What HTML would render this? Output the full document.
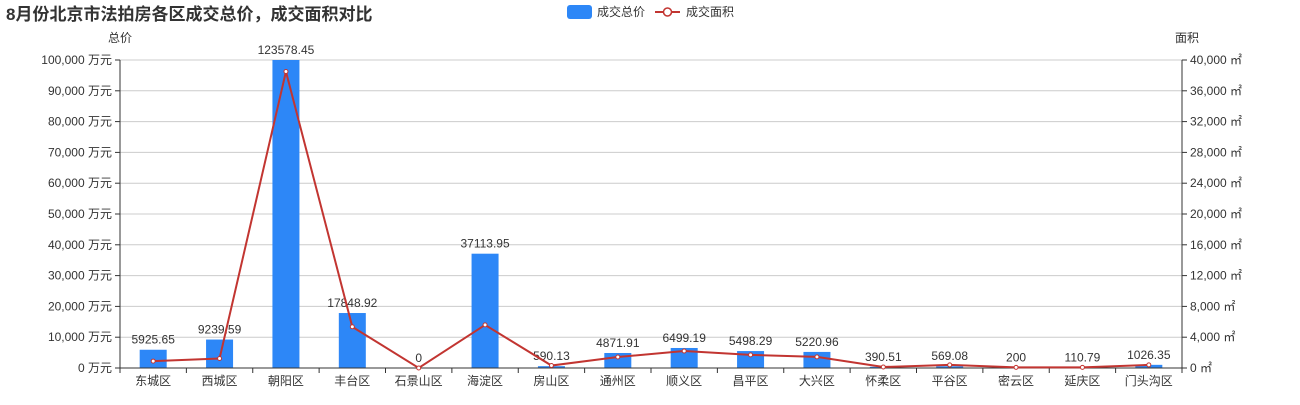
<!DOCTYPE html>
<html><head><meta charset="utf-8"><style>
body{margin:0;background:#fff;}
svg text{font-family:"Liberation Sans","Noto Sans CJK SC",sans-serif;}
</style></head><body>
<svg id="chart" width="1300" height="400" xmlns="http://www.w3.org/2000/svg">
<text x="6" y="20" font-size="17" font-weight="bold" fill="#333">8月份北京市法拍房各区成交总价，成交面积对比</text>
<rect x="567" y="5" width="25" height="14" rx="3" fill="#2d87f7"/>
<text x="597" y="16" font-size="12" fill="#333">成交总价</text>
<line x1="655" y1="12" x2="680" y2="12" stroke="#c23531" stroke-width="2"/>
<circle cx="667.5" cy="12" r="4" fill="#fff" stroke="#c23531" stroke-width="1.5"/>
<text x="686" y="16" font-size="12" fill="#333">成交面积</text>
<text x="108" y="42" font-size="12" fill="#333">总价</text>
<text x="1175" y="42" font-size="12" fill="#333">面积</text>
</svg>
<script>
(function(){
var ns='http://www.w3.org/2000/svg';
var svg=document.getElementById('chart');
function el(t,a,txt){var e=document.createElementNS(ns,t);for(var k in a)e.setAttribute(k,a[k]);if(txt!=null)e.textContent=txt;svg.appendChild(e);return e;}
var T=60,B=368,H=B-T,L=120,R=1182;
for(var i=0;i<=10;i++){var y=B-H*i/10;
 if(i>0)el('line',{x1:L,x2:R,y1:y,y2:y,stroke:'#ccc'});
 el('line',{x1:L-5,x2:L,y1:y,y2:y,stroke:'#333'});
 el('line',{x1:R,x2:R+5,y1:y,y2:y,stroke:'#333'});
 el('text',{x:L-8,y:y+4,'font-size':12,fill:'#333','text-anchor':'end'},(i*10000).toLocaleString('en-US')+' 万元');
 el('text',{x:R+8,y:y+4,'font-size':12,fill:'#333'},(i*4000).toLocaleString('en-US')+' ㎡');
}
var cats=['东城区','西城区','朝阳区','丰台区','石景山区','海淀区','房山区','通州区','顺义区','昌平区','大兴区','怀柔区','平谷区','密云区','延庆区','门头沟区'];
var vals=[5925.65,9239.59,123578.45,17848.92,0,37113.95,590.13,4871.91,6499.19,5498.29,5220.96,390.51,569.08,200,110.79,1026.35];
var area=[900,1230,38500,5350,0,5600,320,1430,2200,1700,1450,130,400,80,80,400];
var w=(R-L)/16,pts=[];
for(var i=0;i<16;i++){var cx=L+w*(i+0.5);var h=Math.min(H,vals[i]/100000*H);
 el('rect',{x:cx-13.5,y:B-h,width:27,height:h,fill:'#2d87f7'});
 el('text',{x:cx,y:B-h-6,'font-size':12,fill:'#333','text-anchor':'middle'},String(vals[i]));
 el('text',{x:cx,y:B+17,'font-size':12,fill:'#333','text-anchor':'middle'},cats[i]);
 el('line',{x1:L+w*i,x2:L+w*i,y1:B,y2:B+5,stroke:'#333'});
 pts.push([cx,B-area[i]/40000*H]);
}
el('line',{x1:R,x2:R,y1:B,y2:B+5,stroke:'#333'});
el('line',{x1:L,x2:R,y1:B,y2:B,stroke:'#333'});
el('line',{x1:L,x2:L,y1:T,y2:B,stroke:'#333'});
el('line',{x1:R,x2:R,y1:T,y2:B,stroke:'#333'});
el('polyline',{points:pts.map(function(p){return p.join(',')}).join(' '),fill:'none',stroke:'#c23531','stroke-width':2});
pts.forEach(function(p){el('circle',{cx:p[0],cy:p[1],r:2,fill:'#fff',stroke:'#c23531','stroke-width':1});});
})();
</script>
</body></html>
